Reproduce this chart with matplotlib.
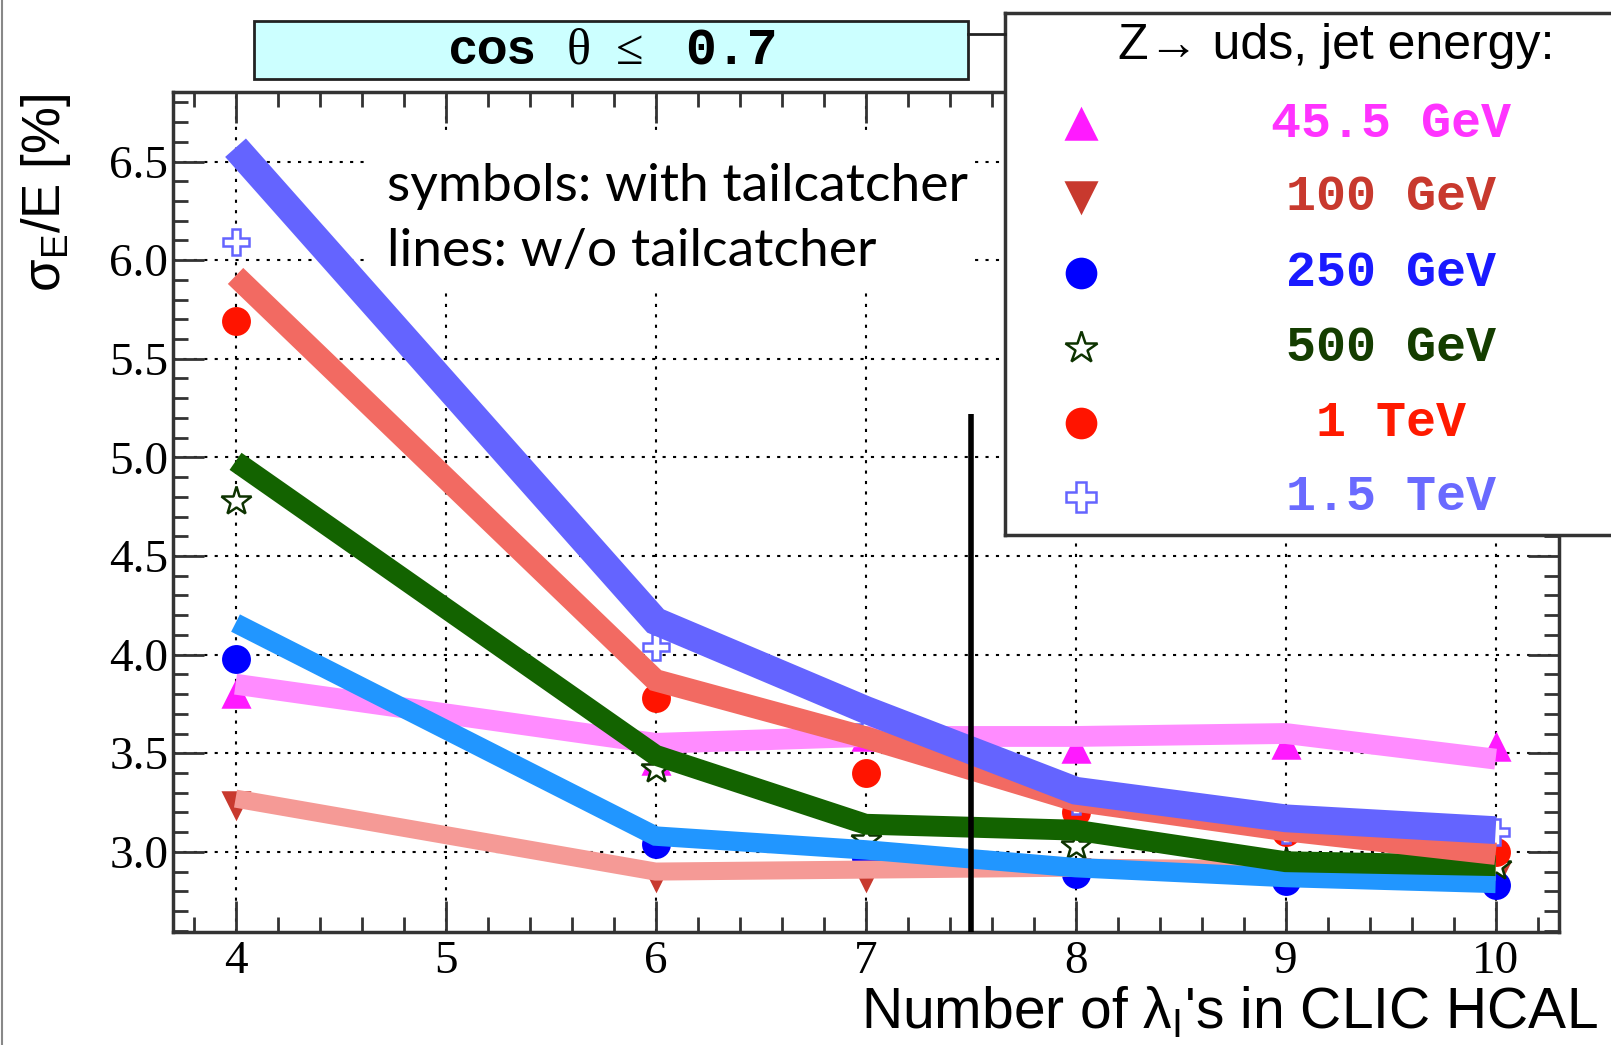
import matplotlib.pyplot as plt
from matplotlib.patches import Rectangle
from matplotlib.lines import Line2D
from matplotlib.ticker import MultipleLocator

plt.rcParams['mathtext.fontset'] = 'custom'
plt.rcParams['mathtext.rm'] = 'Liberation Sans'
plt.rcParams['mathtext.it'] = 'Liberation Sans:italic'

# HCAL depth in interaction lengths
n_lambda = [4, 6, 7, 8, 9, 10]
energies = ['45.5 GeV', '100 GeV', '250 GeV', '500 GeV', '1 TeV', '1.5 TeV']

# resolution with tailcatcher (symbols), in %
tc_45 = [3.80, 3.46, 3.58, 3.52, 3.54, 3.53]
tc_100 = [3.24, 2.87, 2.87, 2.90, 2.89, 2.88]
tc_250 = [3.98, 3.04, 2.97, 2.89, 2.85, 2.83]
tc_500 = [4.78, 3.42, 3.06, 3.03, 2.95, 2.93]
tc_1000 = [5.69, 3.78, 3.40, 3.20, 3.10, 3.00]
tc_1500 = [6.09, 4.04, 3.63, 3.26, 3.11, 3.10]

# resolution without tailcatcher (lines), in %
no_45 = [3.85, 3.55, 3.585, 3.585, 3.60, 3.47]
no_100 = [3.27, 2.90, 2.91, 2.92, 2.91, 2.90]
no_250 = [4.16, 3.08, 3.01, 2.92, 2.87, 2.84]
no_500 = [4.98, 3.49, 3.14, 3.11, 2.95, 2.93]
no_1000 = [5.92, 3.87, 3.58, 3.26, 3.11, 2.99]
no_1500 = [6.57, 4.17, 3.72, 3.31, 3.17, 3.11]

fig = plt.figure(figsize=(16.11, 10.45), dpi=100)
ax = fig.add_axes([0.1071, 0.1082, 0.8604, 0.8033])

ax.set_xlim(3.7, 10.3)
ax.set_ylim(2.594, 6.85)

# lines first in the list are drawn underneath
line_specs = [
    (no_100, '#f59a96', 13),
    (no_45, '#ff8cff', 15),
    (no_250, '#2196ff', 14),
    (no_500, '#136300', 15),
    (no_1000, '#f26a62', 16),
    (no_1500, '#6464ff', 20),
]
for vals, col, lw in line_specs:
    ax.plot(n_lambda, vals, color=col, lw=lw, solid_capstyle='butt',
            solid_joinstyle='miter', zorder=3)

marker_specs = [
    (tc_45, '^', '#ff1aff', '#ff1aff', 19),
    (tc_100, 'v', '#c8392e', '#c8392e', 19),
    (tc_250, 'o', '#0000ff', '#0000ff', 19),
    (tc_500, '*', 'white', '#0d3300', 22),
    (tc_1000, 'o', '#ff1400', '#ff1400', 19),
    (tc_1500, 'P', 'white', '#6464ff', 19),
]
for vals, mk, fc, ec, ms in marker_specs:
    ax.plot(n_lambda, vals, ls='none', marker=mk, ms=ms, mfc=fc, mec=ec,
            mew=1.8, zorder=2)

# boundary between 7 and 8 lambda
ax.vlines(7.5, 2.594, 5.22, color='black', lw=4, zorder=4)

# white panel behind the annotation
ax.add_patch(Rectangle((4.62, 5.85), 2.88, 0.785, facecolor='white',
                       edgecolor='none', zorder=1))
ax.text(4.72, 6.30, 'symbols: with tailcatcher', fontsize=38.5, family='Lato',
        va='baseline', zorder=6)
ax.text(4.72, 5.97, 'lines: w/o tailcatcher', fontsize=38.5, family='Lato',
        va='baseline', zorder=6)

# grid and ticks
ax.set_axisbelow(True)
ax.grid(True, which='major', ls=(0, (1.5, 3.5)), color='black', lw=1.5)
ax.set_xticks(range(4, 11))
ax.set_yticks([3.0, 3.5, 4.0, 4.5, 5.0, 5.5, 6.0, 6.5])
ax.set_yticklabels(['3.0', '3.5', '4.0', '4.5', '5.0', '5.5', '6.0', '6.5'])
ax.xaxis.set_minor_locator(MultipleLocator(0.2))
ax.yaxis.set_minor_locator(MultipleLocator(0.1))
ax.tick_params(which='both', direction='in', top=True, right=True,
               width=2, color='#333333')
ax.tick_params(which='major', length=22)
ax.tick_params(which='minor', length=11)
ax.tick_params(axis='x', pad=6)
ax.tick_params(axis='y', pad=3)
for lab in ax.get_xticklabels() + ax.get_yticklabels():
    lab.set_family('Liberation Serif')
    lab.set_fontsize(34)
for sp in ax.spines.values():
    sp.set_linewidth(2.5)
    sp.set_color('#333333')

fig.text(0.0287, 0.815, r'$\mathregular{\sigma_E}$/E [%]', rotation=90,
         ha='center', va='center', fontsize=38, family='Liberation Sans')
fig.text(0.9917, 0.0315, r"Number of $\mathregular{\lambda_I}$'s in CLIC HCAL",
         ha='right', va='center', fontsize=41, family='Liberation Sans')

# angular cut label
fig.patches.append(Rectangle((0.1575, 0.9243), 0.4433, 0.056,
                             transform=fig.transFigure, facecolor='#ccffff',
                             edgecolor='#222222', lw=2))
fig.text(0.2787, 0.951, 'cos', ha='left', va='center', fontsize=36,
         family='Liberation Sans', weight='bold')
fig.text(0.352, 0.951, 'θ  ≤', ha='left', va='center', fontsize=36,
         family='Liberation Serif')
fig.text(0.425, 0.951, '0.7', ha='left', va='center', fontsize=37,
         family='Liberation Mono', weight='bold')
fig.lines.append(Line2D([0.6008, 0.6237], [0.9675, 0.9675],
                        transform=fig.transFigure, color='#222222', lw=2))
fig.lines.append(Line2D([0.001, 0.001], [0, 1], transform=fig.transFigure,
                        color='#888888', lw=1.5))

# legend panel
leg = fig.add_axes([0.6237, 0.4877, 0.40, 0.4995])
leg.set_xlim(0, 1)
leg.set_ylim(0, 1)
leg.set_xticks([])
leg.set_yticks([])
for sp in leg.spines.values():
    sp.set_linewidth(2.5)
    sp.set_color('#333333')
leg.text(0.514, 0.937, 'Z→ uds, jet energy:', ha='center', va='center',
         fontsize=36, family='Liberation Sans')
leg_y = [0.789, 0.648, 0.502, 0.358, 0.216, 0.073]
text_cols = ['#ff33ff', '#c8392e', '#1a1aff', '#143d00', '#ff1a00', '#6a6aff']
for (vals, mk, fc, ec, ms), y, lab, tc in zip(marker_specs, leg_y, energies, text_cols):
    leg.plot([0.118], [y], ls='none', marker=mk, ms=ms + 2, mfc=fc, mec=ec, mew=1.8)
    leg.text(0.60, y, lab, ha='center', va='center',
             fontsize=36, family='Liberation Mono', weight='bold', color=tc)

fig.savefig('out.png', dpi=100)
